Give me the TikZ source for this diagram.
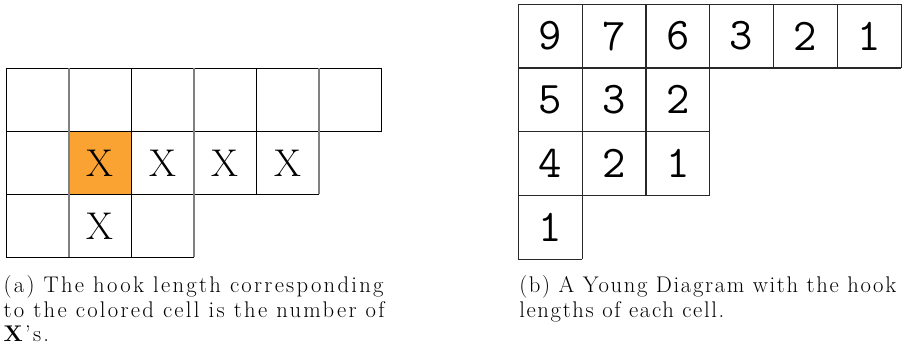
\documentclass[tikz,border=0pt]{standalone}
\usepackage{fontspec}
\setmainfont{Latin Modern Roman}
\setmonofont{Latin Modern Mono}
\definecolor{hookorange}{RGB}{250,162,50}
\definecolor{gridgray}{RGB}{128,128,128}
\definecolor{gridb}{RGB}{40,40,40}
\tikzset{
  gline/.style={line width=1pt, black},
  gglay/.style={line width=1pt, gridgray},
  rline/.style={line width=0.9pt, gridb},
  xmark/.style={inner sep=0pt, font=\fontsize{29}{30}\selectfont},
  hnum/.style={inner sep=0pt, font=\fontsize{34}{35}\selectfont\ttfamily},
  capline/.style={inner sep=0pt, anchor=base west, font=\fontsize{17}{19}\selectfont\addfontfeature{LetterSpace=10}},
  caplinetight/.style={inner sep=0pt, anchor=base west, font=\fontsize{17}{19}\selectfont\addfontfeature{LetterSpace=7.3}},
}
\begin{document}
\begin{tikzpicture}[x=0.75pt,y=-0.75pt]
\path[use as bounding box] (0,0) rectangle (902,356);
% ---------- left diagram ----------
\def\lx#1{6.3+62.57*#1}
\def\ly#1{68.3+63*#1}
\fill[hookorange] ({\lx1},{\ly1}) rectangle ({\lx2},{\ly2});
% horizontals
\draw[gline] ({\lx0},{\ly0}) -- ({\lx6},{\ly0});
\draw[gline] ({\lx0},{\ly1}) -- ({\lx6},{\ly1});
\draw[gline] ({\lx0},{\ly2}) -- ({\lx5},{\ly2});
\draw[gline] ({\lx0},{\ly3}) -- ({\lx3},{\ly3});
% verticals
\draw[gline] ({\lx0},{\ly0}) -- ({\lx0},{\ly3});
\draw[gglay] ({\lx1},{\ly0}) -- ({\lx1},{\ly3});
\draw[gline] ({\lx2},{\ly0}) -- ({\lx2},{\ly3});
\draw[gglay] ({\lx3},{\ly0}) -- ({\lx3},{\ly3});
\draw[gline] ({\lx4},{\ly0}) -- ({\lx4},{\ly2});
\draw[gglay] ({\lx5},{\ly0}) -- ({\lx5},{\ly2});
\draw[gline] ({\lx6},{\ly0}) -- ({\lx6},{\ly1});
% X marks
\node[xmark] (x11) at ({\lx{1.5}},{\ly{1.5}}) {X};
\node[xmark] (x12) at ({\lx{2.5}},{\ly{1.5}}) {X};
\node[xmark] (x13) at ({\lx{3.5}},{\ly{1.5}}) {X};
\node[xmark] (x14) at ({\lx{4.5}},{\ly{1.5}}) {X};
\node[xmark] (x21) at ({\lx{1.5}},{\ly{2.5}}) {X};
% ---------- right diagram ----------
\def\rx#1{518.3+63.8*#1}
\def\ry#1{4.3+63.7*#1}
\draw[rline] ({\rx0},{\ry0}) -- ({\rx6},{\ry0});
\draw[rline] ({\rx0},{\ry1}) -- ({\rx6},{\ry1});
\draw[rline] ({\rx0},{\ry2}) -- ({\rx3},{\ry2});
\draw[rline] ({\rx0},{\ry3}) -- ({\rx3},{\ry3});
\draw[rline] ({\rx0},{\ry4}) -- ({\rx1},{\ry4});
\draw[rline] ({\rx0},{\ry0}) -- ({\rx0},{\ry4});
\draw[rline] ({\rx1},{\ry0}) -- ({\rx1},{\ry4});
\draw[rline] ({\rx2},{\ry0}) -- ({\rx2},{\ry3});
\draw[rline] ({\rx3},{\ry0}) -- ({\rx3},{\ry3});
\draw[rline] ({\rx4},{\ry0}) -- ({\rx4},{\ry1});
\draw[rline] ({\rx5},{\ry0}) -- ({\rx5},{\ry1});
\draw[rline] ({\rx6},{\ry0}) -- ({\rx6},{\ry1});
\node[hnum] (h00) at ({\rx{0.5}},{\ry{0.5}}) {9};
\node[hnum] (h01) at ({\rx{1.5}},{\ry{0.5}}) {7};
\node[hnum] (h02) at ({\rx{2.5}},{\ry{0.5}}) {6};
\node[hnum] (h03) at ({\rx{3.5}},{\ry{0.5}}) {3};
\node[hnum] (h04) at ({\rx{4.5}},{\ry{0.5}}) {2};
\node[hnum] (h05) at ({\rx{5.5}},{\ry{0.5}}) {1};
\node[hnum] (h10) at ({\rx{0.5}},{\ry{1.5}}) {5};
\node[hnum] (h11) at ({\rx{1.5}},{\ry{1.5}}) {3};
\node[hnum] (h12) at ({\rx{2.5}},{\ry{1.5}}) {2};
\node[hnum] (h20) at ({\rx{0.5}},{\ry{2.5}}) {4};
\node[hnum] (h21) at ({\rx{1.5}},{\ry{2.5}}) {2};
\node[hnum] (h22) at ({\rx{2.5}},{\ry{2.5}}) {1};
\node[hnum] (h30) at ({\rx{0.5}},{\ry{3.5}}) {1};
% ---------- captions ----------
\node[capline] (ca1) at (3.3,292.5) {(a) The hook length corresponding};
\node[capline] (ca2) at (3.3,317.5) {to the colored cell is the number of};
\node[capline] (ca3) at (3.3,341.5) {\textbf{X}'s.};
\node[caplinetight] (cb1) at (519,292.5) {(b) A Young Diagram with the hook};
\node[caplinetight] (cb2) at (519,317.5) {lengths of each cell.};
\end{tikzpicture}
\end{document}
